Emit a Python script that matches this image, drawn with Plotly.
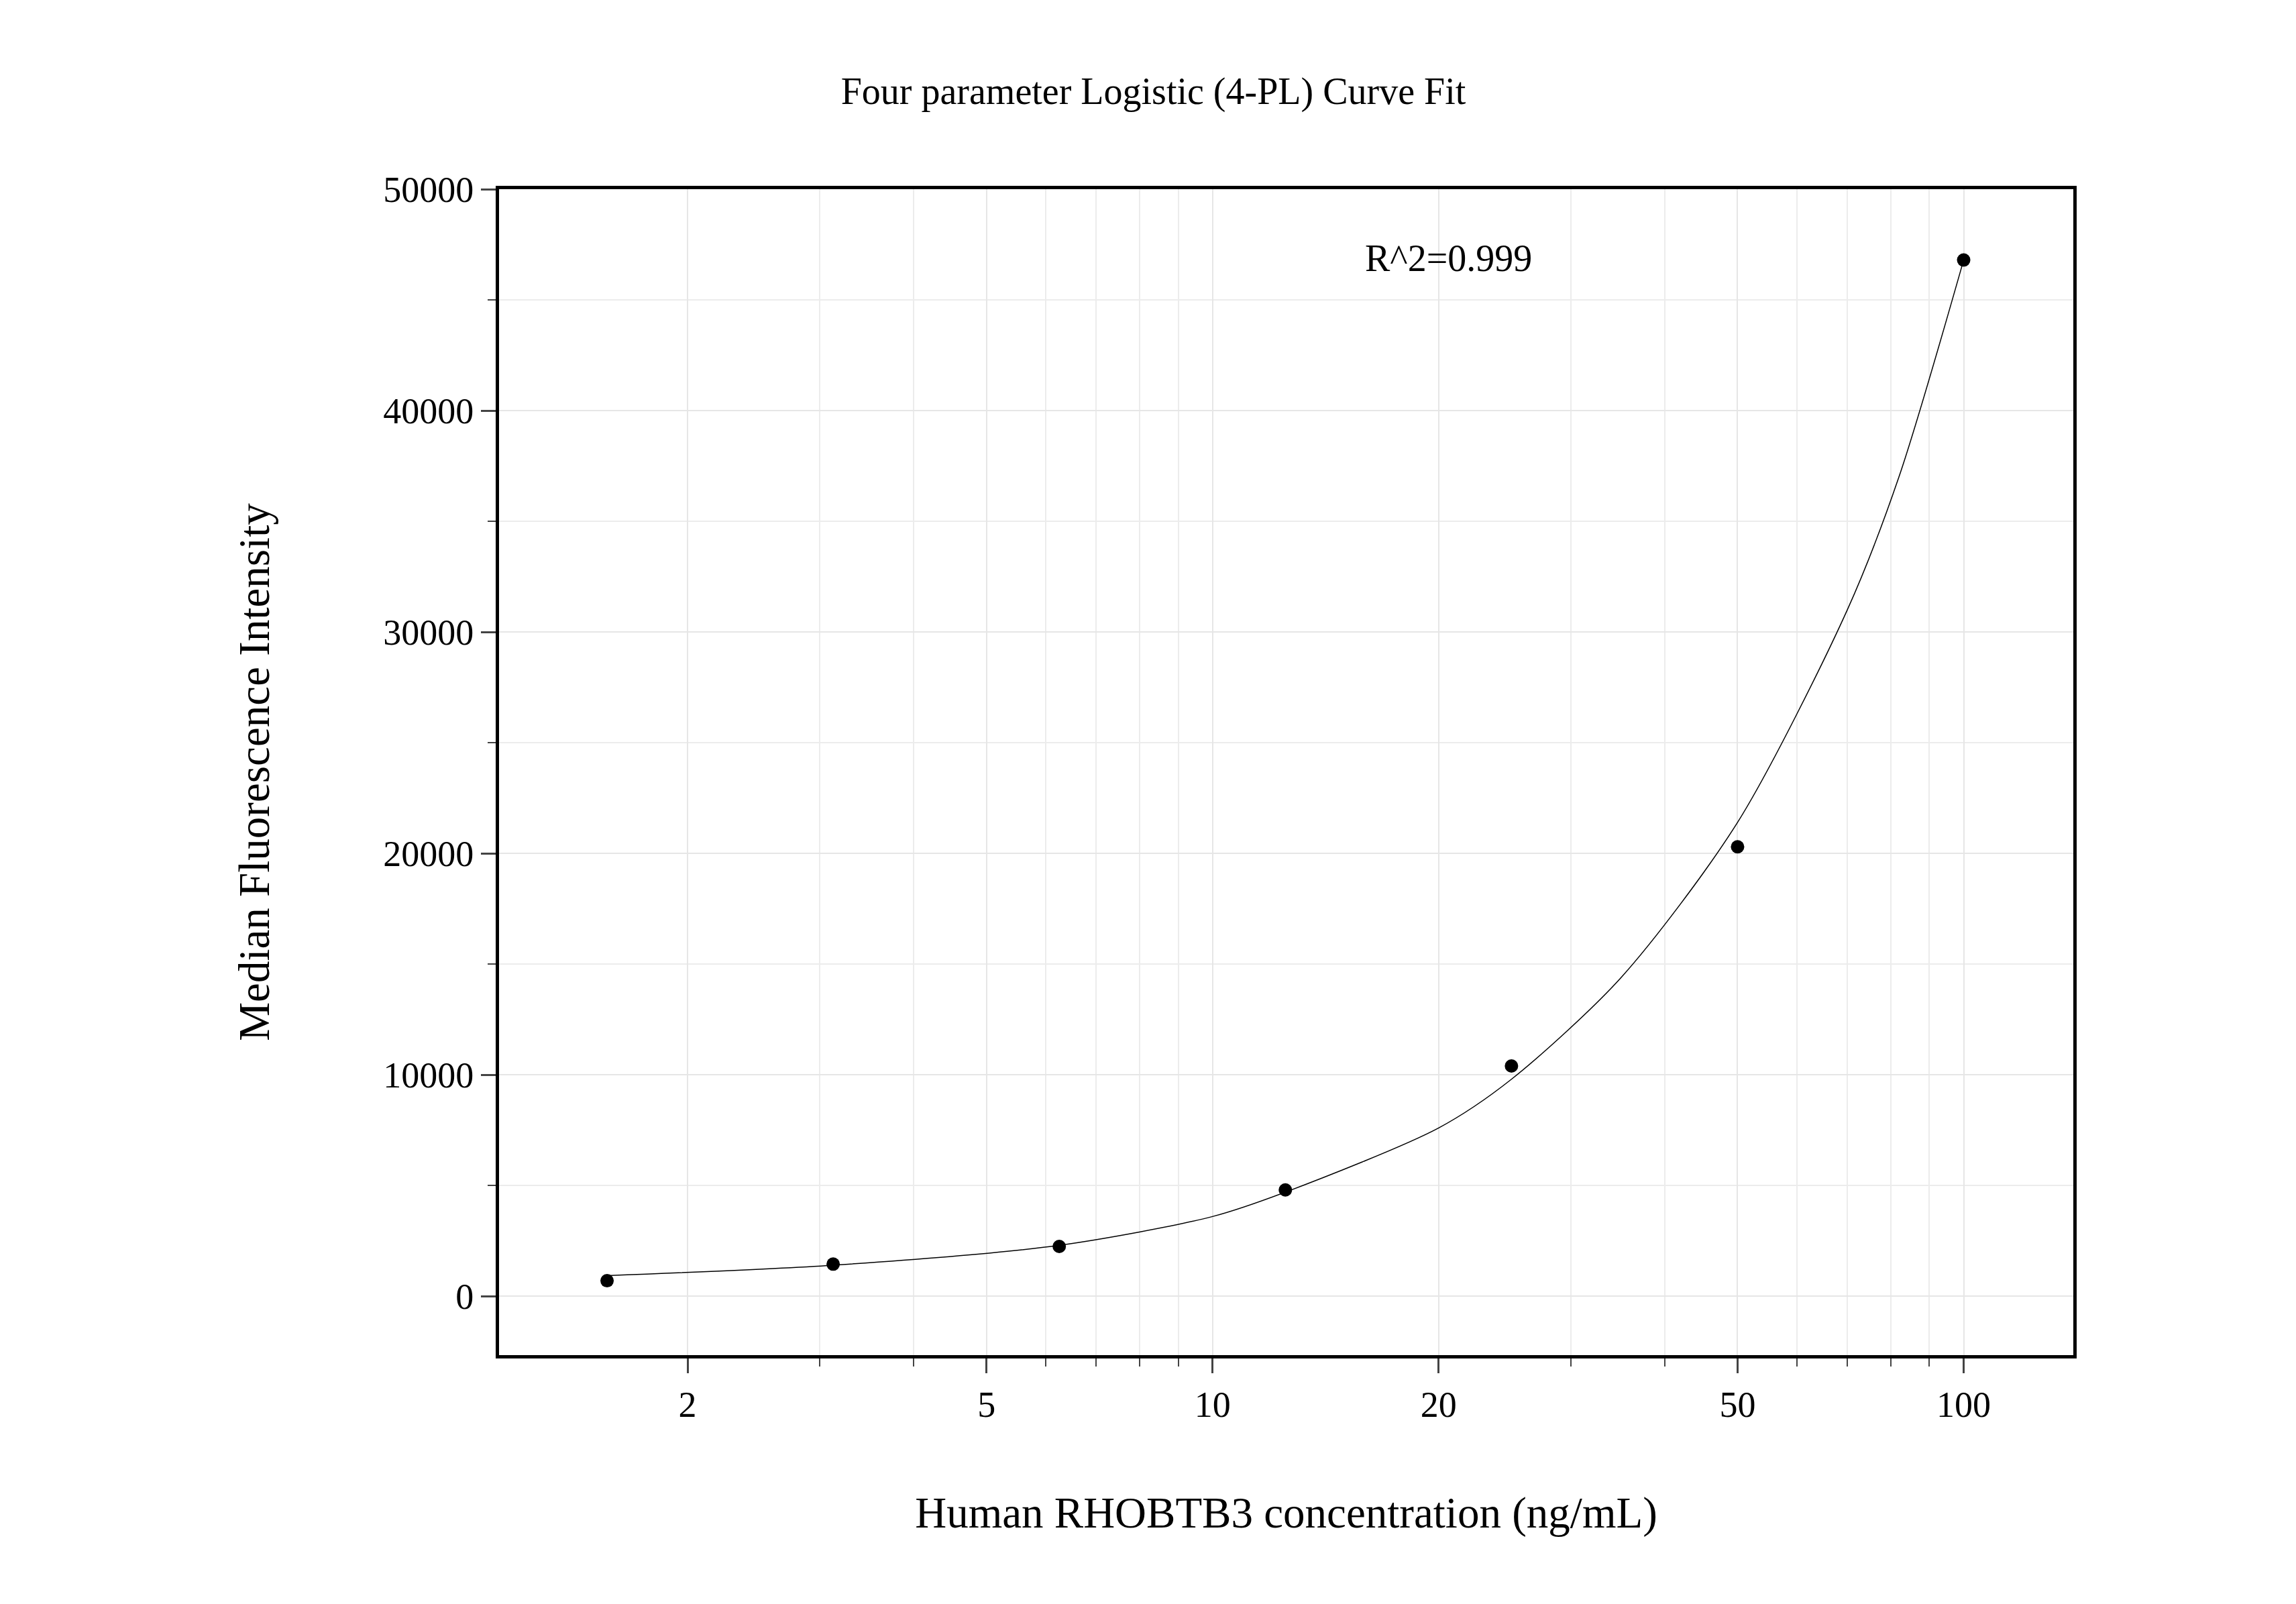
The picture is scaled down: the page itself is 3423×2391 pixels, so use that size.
import plotly.graph_objects as go

# standards (ng/mL) and measured MFI
conc = [1.5625, 3.125, 6.25, 12.5, 25, 50, 100]
mfi = [700, 1450, 2250, 4800, 10400, 20300, 46800]

# fitted curve
fit_x = [1.5625, 3.125, 6.25, 10, 12.5, 20, 25, 35, 50, 70, 82, 100]
fit_y = [930, 1400, 2300, 3600, 4700, 7600, 9800, 14400, 21400, 31000, 37000, 46800]

x_ticks = [2, 5, 10, 20, 50, 100]
x_minor = [2, 3, 4, 5, 6, 7, 8, 9, 20, 30, 40, 50, 60, 70, 80, 90]
font = "Liberation Serif"

fig = go.Figure()
fig.add_trace(go.Scatter(x=fit_x, y=fit_y, mode="lines",
                         line=dict(color="black", width=1.5, shape="spline", smoothing=0.8),
                         showlegend=False))
fig.add_trace(go.Scatter(x=conc, y=mfi, mode="markers",
                         marker=dict(color="black", size=20), showlegend=False))

fig.update_layout(
    width=3423, height=2391,
    paper_bgcolor="white", plot_bgcolor="white",
    margin=dict(l=736, r=340, t=274, b=379),
    font=dict(family=font, size=54, color="black"),
    title=dict(text="Four parameter Logistic (4-PL) Curve Fit", x=0.5, xanchor="center",
               y=0.955, yanchor="top", font=dict(size=56)),
    annotations=[dict(text="R^2=0.999", xref="paper", yref="paper", x=0.603, y=0.96,
                      showarrow=False, font=dict(size=56))],
)
fig.update_xaxes(
    type="log", range=[0.05, 2.146], tickvals=x_ticks, ticktext=[str(v) for v in x_ticks],
    ticks="outside", ticklen=22, tickwidth=3, showline=True, linewidth=5, linecolor="black",
    mirror=True, showgrid=True, gridcolor="#e6e6e6", gridwidth=2,
    minor=dict(tickvals=x_minor, ticks="outside", ticklen=12, tickwidth=2,
               showgrid=True, gridcolor="#ececec"),
    title=dict(text="Human RHOBTB3 concentration (ng/mL)", standoff=110),
)
fig.update_yaxes(
    range=[-2660, 50000], dtick=10000, tickformat="d", ticks="outside", ticklen=22, tickwidth=3,
    showline=True, linewidth=5, linecolor="black", mirror=True,
    showgrid=True, gridcolor="#e6e6e6", gridwidth=2, zeroline=False,
    minor=dict(dtick=5000, ticks="outside", ticklen=12, tickwidth=2, showgrid=True, gridcolor="#ececec"),
    title=dict(text="Median Fluorescence Intensity", standoff=150),
)

fig.write_html("out.html")
